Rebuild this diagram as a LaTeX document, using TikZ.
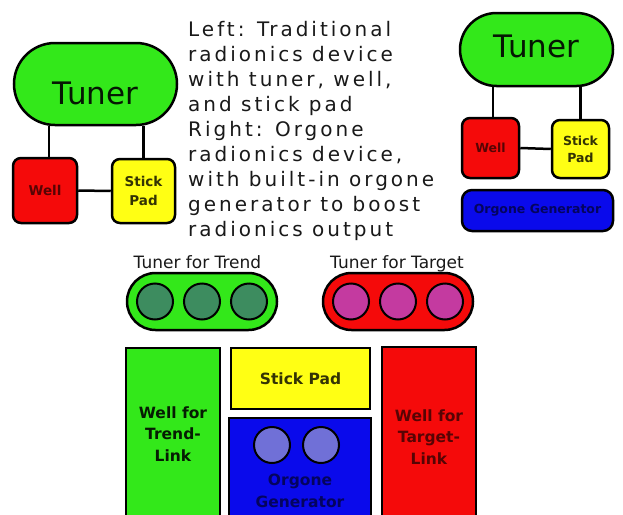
\documentclass[tikz,border=0pt]{standalone}
\usepackage{fontspec}
\setmainfont{DejaVu Sans}
\newfontfamily\descfont[LetterSpace=15]{DejaVu Sans}
\definecolor{cgreen}{RGB}{51,232,26}
\definecolor{cred}{RGB}{245,10,10}
\definecolor{cyellow}{RGB}{255,255,20}
\definecolor{cblue}{RGB}{10,10,235}
\definecolor{cdgreen}{RGB}{61,140,95}
\definecolor{cmag}{RGB}{196,58,160}
\definecolor{clblue}{RGB}{112,112,215}
\definecolor{ctext}{RGB}{25,25,25}
\tikzset{
  box/.style={draw=black, line width=2.5pt, inner sep=0pt, align=center},
  pill/.style={box, rounded corners=#1},
  link/.style={line width=2.5pt},
  dot/.style={circle, draw=black, line width=2pt, minimum size=36pt, inner sep=0pt},
  desc/.style={font=\descfont\fontsize{20}{25}\selectfont, text=ctext, inner sep=0pt},
  smallL/.style={font=\bfseries\fontsize{13.5}{19}\selectfont},
  smallR/.style={font=\bfseries\fontsize{12.5}{17}\selectfont},
  bottomlab/.style={font=\bfseries\fontsize{15.5}{21.5}\selectfont},
  tunerlab/.style={font=\fontsize{17}{20}\selectfont, text=ctext, inner sep=0pt, anchor=base},
}
\begin{document}
\begin{tikzpicture}[x=1pt,y=-1pt]
\useasboundingbox (0,0) rectangle (623,514);
\clip (0,0) rectangle (623,514);
\fill[white] (0,0) rectangle (623,514);

% ---- left device ----
\node[pill=41pt, fill=cgreen, minimum width=163pt, minimum height=82pt,
      font=\fontsize{31}{31}\selectfont, text=cgreen!10!black,
      text height=40pt, text depth=0pt] (tunerL) at (95.5,84) {Tuner};
\node[pill=8pt, fill=cred, minimum width=64pt, minimum height=65pt,
      smallL, text=cred!35!black] (wellL) at (45,190.5) {Well};
\node[pill=8pt, fill=cyellow, minimum width=63pt, minimum height=64pt,
      smallL, text=cyellow!20!black] (stickL) at (143.5,191) {Stick\\Pad};
\draw[link] ([xshift=4pt]wellL.north) -- ([xshift=4pt]wellL.north |- tunerL.south);
\draw[link] (stickL.north) -- (stickL.north |- tunerL.south);
\draw[link] (wellL.east) -- (stickL.west);

% ---- description ----
\foreach \t [count=\i] in {Left: Traditional, radionics device, {with tuner, well,},
  and stick pad, Right: Orgone, {radionics device,}, with built-in orgone,
  generator to boost, radionics output}
  \node[desc, anchor=base west] (d\i) at (188,{36+25.1*(\i-1)}) {\t};

% ---- right device ----
\node[pill=36.5pt, fill=cgreen, minimum width=153pt, minimum height=73pt,
      font=\fontsize{31}{31}\selectfont, text=cgreen!10!black,
      text height=22pt, text depth=6.4pt] (tunerR) at (536.5,49.5) {Tuner};
\node[pill=8pt, fill=cred, minimum width=57pt, minimum height=60pt,
      smallR, text=cred!35!black] (wellR) at (490.5,148) {Well};
\node[pill=8pt, fill=cyellow, minimum width=57pt, minimum height=58pt,
      smallR, text=cyellow!20!black] (stickR) at (580.5,149) {Stick\\Pad};
\draw[link] ([xshift=2.5pt]wellR.north) -- ([xshift=2.5pt]wellR.north |- tunerR.south);
\draw[link] (stickR.north) -- (stickR.north |- tunerR.south);
\draw[link] (wellR.east) -- (stickR.west);
\node[pill=10pt, fill=cblue, minimum width=151pt, minimum height=41pt,
      smallR, text=cblue!40!black] (orgR) at (537.5,210.5) {Orgone Generator};

% ---- bottom: tuners ----
\node[tunerlab] (ltrend) at (197.5,268) {Tuner for Trend};
\node[tunerlab] (ltarget) at (397,268) {Tuner for Target};
\node[pill=28.5pt, fill=cgreen, minimum width=150pt, minimum height=57pt] (ptrend) at (202,301.5) {};
\node[pill=28.5pt, fill=cred, minimum width=150pt, minimum height=57pt] (ptarget) at (398,301.5) {};
\foreach \dx [count=\i] in {-47,0,47} {
  \node[dot, fill=cdgreen] (gt\i) at ([xshift=\dx pt]ptrend.center) {};
  \node[dot, fill=cmag] (rt\i) at ([xshift=\dx pt]ptarget.center) {};
}

% ---- bottom: wells, stick pad, generator ----
\node[box, fill=cgreen, minimum width=94pt, minimum height=172pt,
      bottomlab, text=cgreen!12!black] (wtrend) at (173,434) {Well for\\Trend-\\Link};
\node[box, fill=cred, minimum width=94pt, minimum height=173pt] (wtarget) at (429,433.5) {};
\node[bottomlab, text=cred!35!black, align=center, inner sep=0pt] (wtargetT) at (429,437) {Well for\\Target-\\Link};
\node[box, fill=cyellow, minimum width=139pt, minimum height=61pt,
      bottomlab, text=cyellow!20!black] (stickB) at (300.5,378.5) {Stick Pad};
\node[box, fill=cblue, minimum width=142pt, minimum height=102pt] (genB) at (300,469) {};
\node[bottomlab, text=cblue!40!black, align=center, inner sep=0pt] (genT) at (300,491) {Orgone\\Generator};
\node[dot, fill=clblue] (gc1) at (272,445) {};
\node[dot, fill=clblue] (gc2) at (321,445) {};
\end{tikzpicture}
\end{document}
